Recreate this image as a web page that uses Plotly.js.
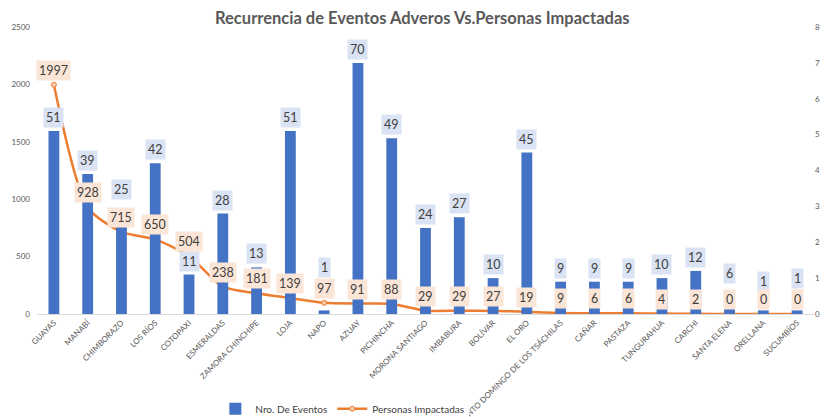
<!DOCTYPE html>
<html>
<head>
<meta charset="utf-8">
<script src="https://cdn.plot.ly/plotly-3.0.1.min.js"></script>
<style>html,body{margin:0;padding:0;background:#fff;}#chart{width:828px;height:417px;}</style>
</head>
<body>
<div id="chart"></div>
<script>
const provincias = ["GUAYAS","MANABÍ","CHIMBORAZO","LOS RÍOS","COTOPAXI","ESMERALDAS","ZAMORA CHINCHIPE","LOJA","NAPO","AZUAY","PICHINCHA","MORONA SANTIAGO","IMBABURA","BOLÍVAR","EL ORO","SANTO DOMINGO DE LOS TSÁCHILAS","CAÑAR","PASTAZA","TUNGURAHUA","CARCHI","SANTA ELENA","ORELLANA","SUCUMBÍOS"];
const nroEventos = [51,39,25,42,11,28,13,51,1,70,49,24,27,10,45,9,9,9,10,12,6,1,1];
const personasImpactadas = [1997,928,715,650,504,238,181,139,97,91,88,29,29,27,19,9,6,6,4,2,0,0,0];
const leftTicks = [0,500,1000,1500,2000,2500];
const rightTickVals = [0,10,20,30,40,50,60,70,80];
const rightTickText = ["0","1","2","3","4","5","6","7","8"];
// extra lift (px) of some bar labels, as placed in the original
const barLabelLift = [0,0,21,0,0,0,0,0,29,0,0,0,0,0,0,0,0,0,0,0,5,15,18];

const fontFam = 'Lato, "Open Sans", sans-serif';
const blue = '#4472c4', orange = '#ed7d31';

const traces = [
  {type:'bar', name:'Nro. De Eventos', x:provincias, y:nroEventos, yaxis:'y2',
   marker:{color:blue}, hoverinfo:'skip'},
  {type:'scatter', mode:'lines+markers', name:'Personas Impactadas', x:provincias, y:personasImpactadas, yaxis:'y',
   line:{color:orange, width:2.5, shape:'spline', smoothing:0.7},
   marker:{symbol:'circle', size:5, color:'#f8cbad', line:{color:orange, width:1}}, hoverinfo:'skip'}
];

const annotations = [];
provincias.forEach((p,i)=>{
  annotations.push({x:p, y:nroEventos[i], xref:'x', yref:'y2', text:String(nroEventos[i]),
    showarrow:false, yanchor:'bottom', yshift:3 + barLabelLift[i], bgcolor:'#dae3f3', borderpad:2,
    font:{family:fontFam, size:12.5, color:'#404040'}});
  annotations.push({x:p, y:personasImpactadas[i], xref:'x', yref:'y', text:String(personasImpactadas[i]),
    showarrow:false, yanchor:'bottom', yshift:4, bgcolor:'#fbe5d6', borderpad:2,
    font:{family:fontFam, size:12.5, color:'#404040'}});
});

const layout = {
  width:828, height:417,
  margin:{l:37, r:14, t:27, b:103, autoexpand:false},
  paper_bgcolor:'#fff', plot_bgcolor:'#fff',
  title:{text:'<b>Recurrencia de Eventos Adveros Vs.Personas Impactadas</b>', x:0.51, xanchor:'center', y:0.957, yanchor:'middle',
    font:{family:fontFam, size:16.5, color:'#595959'}},
  bargap:0.68,
  showlegend:true,
  legend:{orientation:'h', x:0.393, xanchor:'center', y:-0.33, yanchor:'middle',
    font:{family:fontFam, size:10, color:'#404040'}, traceorder:'normal'},
  xaxis:{type:'category', range:[-0.5, provincias.length - 0.5], autorange:false, tickangle:-45,
    tickfont:{family:fontFam, size:8, color:'#595959'},
    showline:true, linecolor:'#d9d9d9', linewidth:1, showgrid:false, ticks:'', automargin:false, fixedrange:true},
  yaxis:{range:[0,2500], tickvals:leftTicks, showgrid:false, zeroline:false, showline:false,
    tickfont:{family:fontFam, size:8, color:'#595959'}, ticks:'', automargin:false, ticklabelstandoff:6},
  yaxis2:{range:[0,80], overlaying:'y', side:'right', tickvals:rightTickVals, ticktext:rightTickText,
    showgrid:false, zeroline:false, showline:false, tickfont:{family:fontFam, size:8, color:'#595959'}, ticks:'', automargin:false},
  annotations:annotations
};

Plotly.newPlot('chart', traces, layout, {displayModeBar:false, staticPlot:true});
</script>
</body>
</html>
